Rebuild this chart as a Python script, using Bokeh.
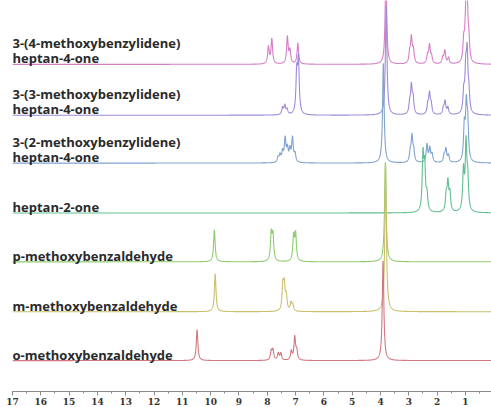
import numpy as np
from bokeh.plotting import figure
from bokeh.models import Range1d, SingleIntervalTicker, ColumnDataSource
from bokeh.embed import file_html
from bokeh.resources import INLINE
from bokeh.core.properties import value

# ---- data -------------------------------------------------------------
label_top = ["3-(4-methoxybenzylidene)", "3-(3-methoxybenzylidene)", "3-(2-methoxybenzylidene)"]
label_bottom = ["heptan-4-one", "heptan-4-one", "heptan-4-one", "heptan-2-one",
                "p-methoxybenzaldehyde", "m-methoxybenzaldehyde", "o-methoxybenzaldehyde"]
offsets = [343, 292, 244, 194, 145, 95, 46]
colors = ["#d47fc6", "#a08ad8", "#7fa3cf", "#63bf92", "#8fcc70", "#c9bf6c", "#d27880"]

# peak lists: shift (ppm), height
pk4_ppm = [7.96, 7.84, 7.29, 7.20, 6.92, 3.81, 2.97, 2.91, 2.84, 2.34, 2.27, 2.20, 1.80, 1.73, 1.60, 1.06, 0.99, 0.94, 0.88]
pk4_h   = [17, 25, 27, 13, 21, 90, 10, 25, 13, 8, 18, 7, 6, 13, 6, 20, 42, 58, 18]
pk3_ppm = [7.46, 7.38, 7.30, 6.96, 6.90, 3.80, 2.97, 2.91, 2.85, 2.33, 2.27, 2.21, 1.78, 1.72, 1.62, 1.06, 0.99, 0.94, 0.88]
pk3_h   = [7, 9, 5, 40, 52, 110, 10, 27, 15, 9, 20, 9, 6, 13, 7, 20, 40, 55, 18]
pk2_ppm = [7.62, 7.55, 7.46, 7.37, 7.29, 7.20, 7.11, 7.02, 3.90, 2.95, 2.89, 2.83, 2.36, 2.26, 2.18, 1.75, 1.69, 1.60, 1.04, 0.97, 0.92]
pk2_h   = [5, 7, 10, 23, 13, 12, 24, 8, 100, 9, 25, 11, 18, 14, 8, 7, 13, 7, 34, 52, 35]
hp_ppm  = [2.50, 2.44, 2.36, 1.68, 1.62, 1.55, 1.07, 0.98, 0.92]
hp_h    = [55, 42, 16, 16, 28, 18, 40, 66, 30]
pm_ppm  = [9.87, 7.86, 7.80, 7.07, 7.00, 3.83]
pm_h    = [32, 27, 25, 25, 27, 100]
mm_ppm  = [9.84, 7.45, 7.40, 7.33, 7.16, 7.10, 3.82]
mm_h    = [38, 24, 24, 14, 8, 6, 148]
om_ppm  = [10.48, 7.86, 7.80, 7.61, 7.52, 7.15, 7.03, 6.96, 3.91]
om_h    = [31, 9, 10, 7, 7, 9, 23, 9, 100]

peak_sets = [(pk4_ppm, pk4_h), (pk3_ppm, pk3_h), (pk2_ppm, pk2_h), (hp_ppm, hp_h),
             (pm_ppm, pm_h), (mm_ppm, mm_h), (om_ppm, om_h)]
half_width = 0.033

# ---- figure -----------------------------------------------------------
p = figure(width=491, height=407, output_backend="svg", toolbar_location=None,
           x_range=Range1d(17, 0.08), y_range=Range1d(15, 407),
           min_border_left=12, min_border_right=0, min_border_top=0, min_border_bottom=15)
p.outline_line_color = None
p.xgrid.visible = False
p.ygrid.visible = False
p.yaxis.visible = False
p.background_fill_color = "white"
p.border_fill_color = "white"

ppm = np.linspace(17, 0.08, 4000)
for (pos, hts), off, col in zip(peak_sets, offsets, colors):
    y = np.full_like(ppm, float(off))
    for c, h in zip(pos, hts):
        y += h * half_width**2 / ((ppm - c) ** 2 + half_width**2)
    p.line(ppm, y, line_color=col, line_width=1.1)

font = value("Open Sans")
src_b = ColumnDataSource(dict(x=[17.0] * 7, y=[o + 6 for o in offsets], t=label_bottom))
p.text(x="x", y="y", text="t", source=src_b, text_font=font, text_font_size="13px",
       text_font_style="bold", text_color="#2a2a2a", text_align="left", text_baseline="alphabetic")
src_t = ColumnDataSource(dict(x=[17.0] * 3, y=[o + 21 for o in offsets[:3]], t=label_top))
p.text(x="x", y="y", text="t", source=src_t, text_font=font, text_font_size="13px",
       text_font_style="bold", text_color="#2a2a2a", text_align="left", text_baseline="alphabetic")

ax = p.xaxis[0]
ax.ticker = SingleIntervalTicker(interval=1, num_minor_ticks=2)
ax.axis_line_color = "#8a8a8a"
ax.major_tick_line_color = "#8a8a8a"
ax.minor_tick_line_color = "#8a8a8a"
ax.major_tick_in = 0
ax.major_tick_out = 4
ax.minor_tick_in = 0
ax.minor_tick_out = 2
ax.major_label_standoff = 2
ax.major_label_text_font = "DejaVu Serif"
ax.major_label_text_font_style = "bold"
ax.major_label_text_font_size = "9px"
ax.major_label_text_color = "#333333"

open("out.html", "w").write(file_html(p, INLINE))
